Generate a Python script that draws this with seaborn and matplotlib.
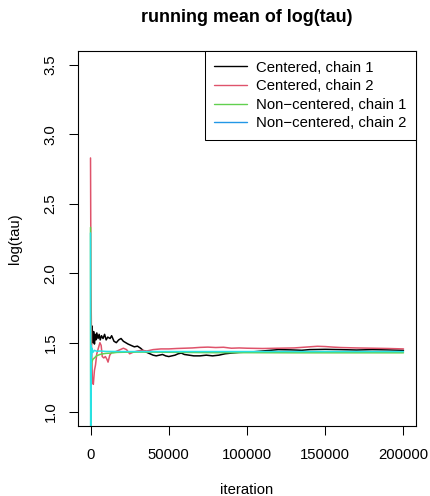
import matplotlib
matplotlib.use("Agg")
import matplotlib.pyplot as plt
from matplotlib.lines import Line2D
import pandas as pd
import seaborn as sns

# ---- data: running means of log(tau) for four MCMC chains ----
series_names = ["Centered, chain 1", "Centered, chain 2",
                "Non\u2212centered, chain 1", "Non\u2212centered, chain 2"]

c1_iter = [500, 1000, 1500, 2000, 2500, 3000, 3500, 4000, 4800, 5500, 6200, 7000,
           8000, 9000, 10000, 11000, 12500, 13500, 15000, 16500, 18000, 19500,
           21000, 22500, 24000, 26000, 28000, 30000, 32000, 34000, 36000, 38000,
           40000, 42000, 44000, 46000, 48000, 50000, 52000, 54000, 56000, 58000,
           60000, 63000, 66000, 70000, 74000, 78000, 82000, 86000, 90000, 95000,
           100000, 105000, 110000, 115000, 120000, 128000, 135000, 140000, 150000,
           160000, 170000, 180000, 190000, 200000]
c1_mean = [1.48, 1.62, 1.50, 1.58, 1.49, 1.56, 1.52, 1.57, 1.53, 1.56, 1.52, 1.55,
           1.53, 1.56, 1.52, 1.54, 1.53, 1.55, 1.51, 1.50, 1.52, 1.53,
           1.51, 1.50, 1.49, 1.48, 1.47, 1.475, 1.46, 1.44, 1.43, 1.42,
           1.41, 1.405, 1.41, 1.415, 1.405, 1.40, 1.405, 1.41, 1.42, 1.425,
           1.415, 1.41, 1.405, 1.405, 1.41, 1.405, 1.41, 1.42, 1.425, 1.43,
           1.432, 1.435, 1.44, 1.445, 1.45, 1.448, 1.445, 1.45, 1.452,
           1.45, 1.447, 1.45, 1.448, 1.445]

c2_iter = [0, 300, 700, 1200, 1800, 2500, 3200, 4000, 5000, 6000, 6800, 7500,
           8500, 9500, 10500, 11200, 12300, 13500, 15000, 17000, 19000, 21000,
           23000, 25000, 27000, 30000, 33000, 36000, 40000, 45000, 50000, 55000,
           60000, 65000, 70000, 75000, 80000, 85000, 90000, 95000, 100000, 110000,
           120000, 130000, 140000, 145000, 150000, 155000, 160000, 170000, 180000,
           190000, 200000]
c2_mean = [2.83, 1.90, 1.45, 1.22, 1.20, 1.30, 1.34, 1.42, 1.46, 1.50, 1.48, 1.40,
           1.39, 1.40, 1.38, 1.36, 1.41, 1.43, 1.43, 1.44, 1.45, 1.46,
           1.45, 1.42, 1.43, 1.44, 1.445, 1.44, 1.45, 1.455, 1.455, 1.458,
           1.46, 1.462, 1.466, 1.468, 1.465, 1.467, 1.46, 1.462, 1.46, 1.458,
           1.46, 1.462, 1.47, 1.474, 1.472, 1.468, 1.465, 1.462, 1.46,
           1.458, 1.455]

nc1_iter = [0, 150, 400, 800, 1500, 2500, 3800, 6000, 8000, 10000, 13000, 17000,
            25000, 40000, 60000, 80000, 100000, 130000, 160000, 200000]
nc1_mean = [2.33, 0.85, 1.30, 1.36, 1.38, 1.39, 1.405, 1.415, 1.42, 1.423, 1.425, 1.43,
            1.432, 1.432, 1.43, 1.428, 1.428, 1.427, 1.427, 1.427]

nc2_iter = [0, 100, 300, 600, 1000, 1500, 2500, 4000, 6000, 10000, 20000,
            50000, 100000, 150000, 200000]
nc2_mean = [2.29, 0.80, 1.48, 1.40, 1.46, 1.43, 1.445, 1.438, 1.44, 1.437, 1.436,
            1.436, 1.436, 1.436, 1.436]

x_ticks = [0, 50000, 100000, 150000, 200000]
x_tick_labels = ["0", "50000", "100000", "150000", "200000"]
y_ticks = [1.0, 1.5, 2.0, 2.5, 3.0, 3.5]
y_tick_labels = ["1.0", "1.5", "2.0", "2.5", "3.0", "3.5"]

line_colors = ["#000000", "#DF536B", "#61D04F", "#28E2E5"]
legend_colors = ["#000000", "#DF536B", "#61D04F", "#2297E6"]

frames = []
for name, it, m in zip(series_names,
                       [c1_iter, c2_iter, nc1_iter, nc2_iter],
                       [c1_mean, c2_mean, nc1_mean, nc2_mean]):
    frames.append(pd.DataFrame({"iteration": it, "mean": m, "series": name}))
df = pd.concat(frames, ignore_index=True)

# ---- styling ----
sns.set_theme(style="white")
plt.rcParams["font.family"] = ["Liberation Sans", "DejaVu Sans"]
plt.rcParams["text.color"] = "black"
plt.rcParams["axes.labelcolor"] = "black"
FS = 10.7

fig = plt.figure(figsize=(4.31, 4.96), dpi=100)
ax = fig.add_axes([78 / 431, 1 - 426 / 496, (416 - 78) / 431, (426 - 51) / 496])

sns.lineplot(data=df, x="iteration", y="mean", hue="series",
             palette=dict(zip(series_names, line_colors)),
             estimator=None, sort=False, legend=False, linewidth=1.1, ax=ax)

ax.set_xlim(-8000, 208000)
ax.set_ylim(0.9, 3.6)
ax.set_xticks(x_ticks)
ax.set_xticklabels(x_tick_labels)
ax.set_yticks(y_ticks)
ax.set_yticklabels(y_tick_labels, rotation=90, va="center")

for s in ax.spines.values():
    s.set_visible(True)
    s.set_color("black")
    s.set_linewidth(0.8)

ax.tick_params(axis="x", pad=9.5)
ax.tick_params(axis="y", pad=8.3)
ax.tick_params(axis="both", which="major", direction="out", length=6.5,
               width=0.75, color="black", labelsize=FS, labelcolor="black",
               bottom=True, left=True)

ax.set_xlabel("iteration", fontsize=FS, color="black")
ax.set_ylabel("log(tau)", fontsize=FS, color="black")
ax.xaxis.label.set_va("center")
ax.yaxis.label.set_va("center")
ax.xaxis.set_label_coords(0.5, -(490 - 426) / 375)
ax.yaxis.set_label_coords(-(78 - 15) / 338, 0.5)

fig.text(247 / 431, 1 - 17 / 496, "running mean of log(tau)",
         ha="center", va="center", fontsize=FS * 1.2, fontweight="bold",
         color="black")

handles = [Line2D([0], [0], color=c, lw=1.0) for c in legend_colors]
leg = ax.legend(handles, series_names, loc="upper right", borderaxespad=0,
                frameon=True, fancybox=False, framealpha=1, edgecolor="black",
                fontsize=FS, handlelength=2.2, handletextpad=0.6,
                borderpad=0.65, labelspacing=0.31)
leg.get_frame().set_linewidth(0.75)
for t in leg.get_texts():
    t.set_color("black")

fig.savefig("out.png", dpi=100)
